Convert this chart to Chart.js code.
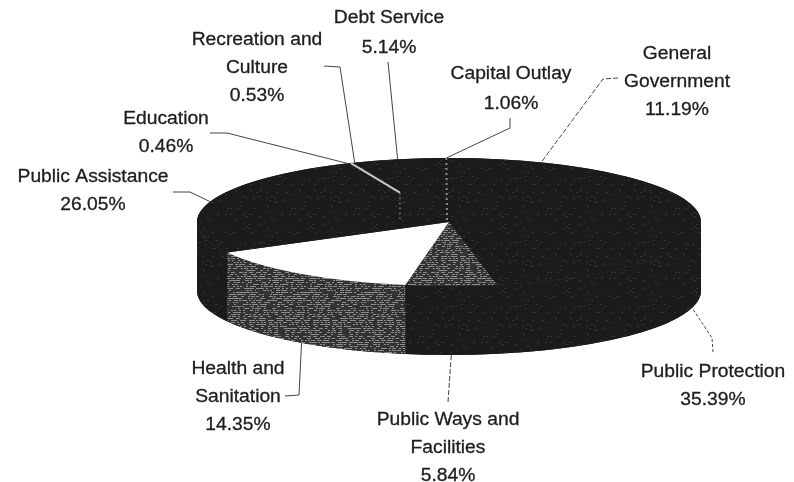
<!DOCTYPE html>
<html>
<head>
<meta charset="utf-8">
<title>Expenditures by function</title>
<script src="https://cdn.jsdelivr.net/npm/chart.js@4/dist/chart.umd.js"></script>
<style>
  html, body { margin: 0; background: #fff; }
  #wrap { width: 794px; height: 482px; }
</style>
</head>
<body>
<div id="wrap"><canvas id="chart-pie"></canvas></div>
<script>
const categories = [
  'General\nGovernment', 'Public Protection', 'Public Ways and\nFacilities',
  'Health and\nSanitation', 'Public Assistance', 'Education',
  'Recreation and\nCulture', 'Debt Service', 'Capital Outlay'
];
const shares = [11.19, 35.39, 5.84, 14.35, 26.05, 0.46, 0.53, 5.14, 1.06];

// Where the squashed disc sits on the page
const DISC = { x: 449, y: 222, rx: 252, ry: 64, depth: 69 };
const TEXT = { size: 18, stretch: 1.07, gap: 28, color: '#1e1e1e' };

// Label block centre and first line, then the elbow(s) of its leader
const labelSpots = [
  { x: 677, y: 54, dash: [5, 2], bend: [[618, 78], [603, 79]] },
  { x: 713, y: 372, dash: [3, 2], bend: [[713, 352], [712, 338]] },
  { x: 448, y: 420, dash: [5, 2], bend: [[448, 402]] },
  { x: 238, y: 369, bend: [[285, 396], [299, 395]] },
  { x: 93, y: 177, bend: [[173, 192], [190, 192]] },
  { x: 166, y: 119, bend: [[210, 133], [227, 133]] },
  { x: 257, y: 40, bend: [[324, 66], [340, 67]] },
  { x: 389, y: 18, gap: 30, bend: [[388, 62]] },
  { x: 511, y: 74, gap: 30, bend: [[510, 118], [510, 128]] }
];

function makeTile(base, speck, every) {
  const c = document.createElement('canvas');
  c.width = 64;
  c.height = 64;
  const g = c.getContext('2d');
  g.fillStyle = base;
  g.fillRect(0, 0, 64, 64);
  g.fillStyle = speck;
  for (let y = 0; y < 64; y += 2) {
    for (let x = 0; x < 64; x++) {
      // scattered specks, scan-like, same every load
      const h = ((x * 73) ^ (y * 151) ^ (x * y * 17)) * 31 % 97;
      if (h % every === 0) g.fillRect(x, y, 2, 1);
    }
  }
  return g.createPattern(c, 'repeat');
}

const BASE = '#1b1b1b';
const dark = makeTile(BASE, '#333333', 29);
const stipple = makeTile('#333333', '#8c8c8c', 3);
const topFills = [dark, dark, stipple, '#ffffff', dark, dark, dark, dark, dark];
const wallFills = [dark, dark, dark, stipple, dark, dark, dark, dark, dark];

const tiltedPie = {
  id: 'tiltedPie',
  beforeDatasetsDraw(chart) {
    const { ctx } = chart;
    const arcs = chart.getDatasetMeta(0).data;
    dark.setTransform(new DOMMatrix());
    stipple.setTransform(new DOMMatrix());

    // Solid underlay so no pale hairlines show between slices
    ctx.fillStyle = BASE;
    ctx.beginPath();
    ctx.ellipse(DISC.x, DISC.y, DISC.rx, DISC.ry, 0, 0, Math.PI * 2);
    ctx.fill();
    ctx.beginPath();
    ctx.ellipse(DISC.x, DISC.y, DISC.rx, DISC.ry, 0, 0, Math.PI);
    ctx.ellipse(DISC.x, DISC.y + DISC.depth, DISC.rx, DISC.ry, 0, Math.PI, 0, true);
    ctx.closePath();
    ctx.fill();

    // Only the front half of the rim is visible
    arcs.forEach((arc, i) => {
      const a0 = Math.max(arc.startAngle, 0);
      const a1 = Math.min(arc.endAngle, Math.PI);
      if (a1 <= a0) return;
      ctx.beginPath();
      ctx.ellipse(DISC.x, DISC.y, DISC.rx, DISC.ry, 0, a0, a1);
      ctx.ellipse(DISC.x, DISC.y + DISC.depth, DISC.rx, DISC.ry, 0, a1, a0, true);
      ctx.closePath();
      ctx.fillStyle = wallFills[i];
      ctx.fill();
    });
  },
  beforeDatasetDraw(chart) {
    const { ctx } = chart;
    const arc = chart.getDatasetMeta(0).data[0];
    ctx.save();
    ctx.translate(DISC.x, DISC.y);
    ctx.scale(DISC.rx / arc.outerRadius, DISC.ry / arc.outerRadius);
    ctx.translate(-arc.x, -arc.y);
    // Keep the speckle square to the page while the disc is squashed
    const back = ctx.getTransform().inverse();
    dark.setTransform(back);
    stipple.setTransform(back);
  },
  afterDatasetDraw(chart) {
    chart.ctx.restore();
  },
  afterDatasetsDraw(chart) {
    const { ctx } = chart;
    const arcs = chart.getDatasetMeta(0).data;
    const rim = (angle, t) => [DISC.x + DISC.rx * Math.cos(angle) * t, DISC.y + DISC.ry * Math.sin(angle) * t];

    // Pale seams across the top face
    ctx.save();
    ctx.strokeStyle = '#8c8c8c';
    ctx.lineWidth = 2;
    ctx.setLineDash([2, 3]);
    const capital = arcs[8];
    const capitalMid = (capital.startAngle + capital.endAngle) / 2;
    ctx.beginPath();
    ctx.moveTo(...rim(capitalMid, 1));
    ctx.lineTo(DISC.x - 2, DISC.y);
    ctx.stroke();
    const [splitX, splitY] = rim(arcs[6].startAngle, 0.5);
    ctx.strokeStyle = '#5a5a5a';
    ctx.beginPath();
    ctx.moveTo(splitX, splitY);
    ctx.lineTo(splitX, DISC.y - 3);
    ctx.stroke();
    ctx.setLineDash([]);
    ctx.strokeStyle = '#c8c8c8';
    ctx.beginPath();
    ctx.moveTo(...rim(arcs[6].startAngle, 1));
    ctx.lineTo(splitX, splitY);
    ctx.stroke();
    ctx.restore();

    // Leaders, from the label elbow to the middle of the slice's rim
    ctx.save();
    ctx.strokeStyle = '#444';
    ctx.lineWidth = 1;
    labelSpots.forEach((spot, i) => {
      const mid = (arcs[i].startAngle + arcs[i].endAngle) / 2;
      const [ax, ay] = rim(mid, 1);
      const onWall = mid > 0 && mid < Math.PI;
      ctx.setLineDash(spot.dash || []);
      ctx.beginPath();
      spot.bend.forEach(([x, y], k) => (k ? ctx.lineTo(x, y) : ctx.moveTo(x, y)));
      ctx.lineTo(ax, ay + (onWall ? DISC.depth : 0));
      ctx.stroke();
    });
    ctx.restore();

    // Category names and shares
    ctx.save();
    ctx.fillStyle = TEXT.color;
    ctx.strokeStyle = TEXT.color;
    ctx.lineWidth = 0.3;
    ctx.font = TEXT.size + 'px "Liberation Sans", Arial, sans-serif';
    ctx.textAlign = 'center';
    ctx.textBaseline = 'middle';
    labelSpots.forEach((spot, i) => {
      const lines = categories[i].split('\n').concat(shares[i].toFixed(2) + '%');
      lines.forEach((line, k) => {
        ctx.save();
        ctx.translate(spot.x, spot.y + k * (spot.gap || TEXT.gap));
        ctx.scale(TEXT.stretch, 1);
        ctx.fillText(line, 0, 0);
        ctx.strokeText(line, 0, 0);
        ctx.restore();
      });
    });
    ctx.restore();
  }
};

new Chart(document.getElementById('chart-pie'), {
  type: 'pie',
  data: {
    labels: categories.map(c => c.replace('\n', ' ')),
    datasets: [{
      data: shares,
      backgroundColor: topFills,
      borderWidth: 0,
      clip: false
    }]
  },
  options: {
    responsive: true,
    maintainAspectRatio: false,
    animation: false,
    events: [],
    rotation: 1.3,
    radius: 200,
    plugins: { legend: { display: false }, tooltip: { enabled: false } }
  },
  plugins: [tiltedPie]
});
</script>
</body>
</html>
